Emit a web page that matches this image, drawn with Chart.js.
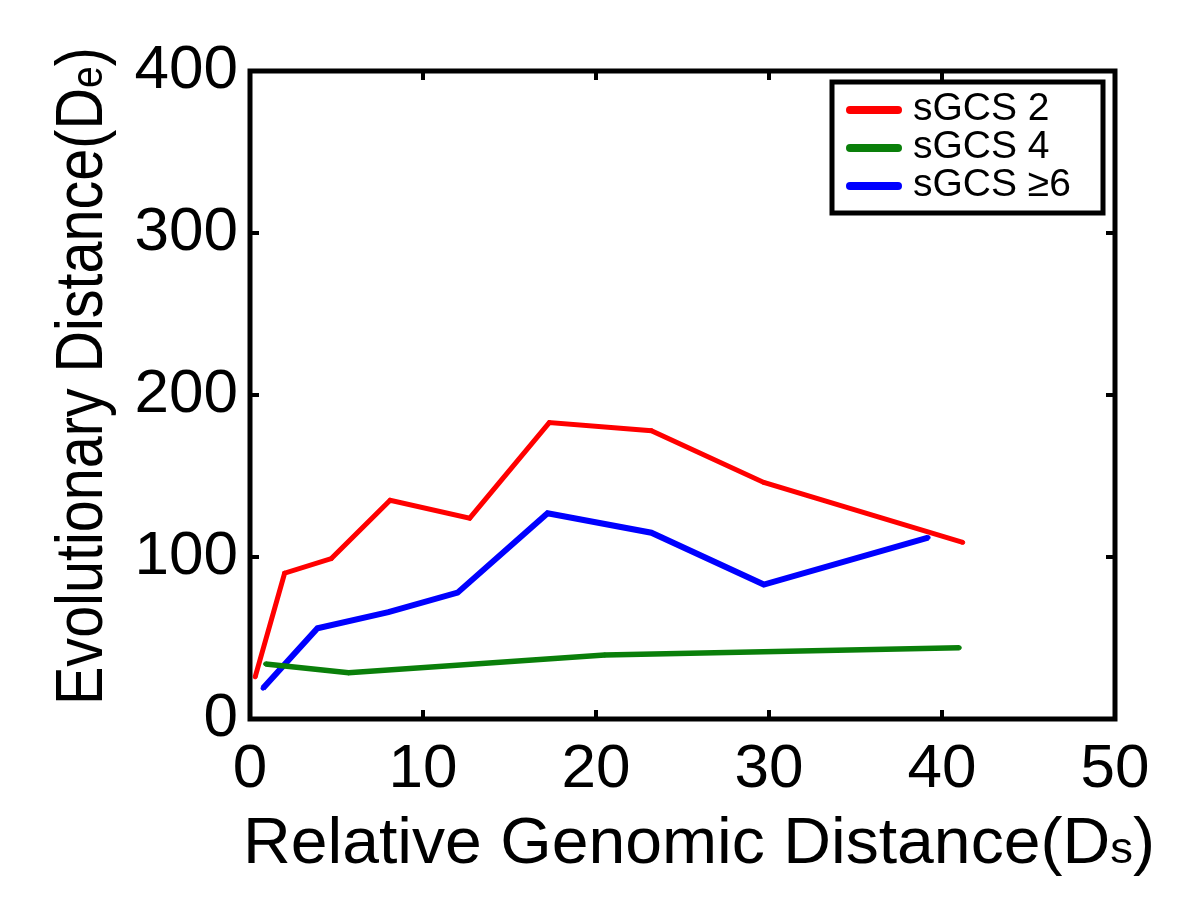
<!DOCTYPE html>
<html>
<head>
<meta charset="utf-8">
<script src="https://cdn.jsdelivr.net/npm/chart.js@4.4.1/dist/chart.umd.min.js"></script>
<style>
  html, body { margin: 0; padding: 0; background: #fff; }
  canvas { display: block; }
</style>
</head>
<body>
<canvas id="myChart" width="1200" height="917"></canvas>
<script>
// values
const seriesNames = ["sGCS 2", "sGCS 4", "sGCS \u22656"];
const seriesColors = ["#ff0000", "#0a7f0a", "#0000ff"];

const sgcs2_x = [0.3, 2.0, 4.7, 8.1, 12.7, 17.3, 23.2, 29.7, 41.2];
const sgcs2_y = [26, 90, 99, 135, 124, 183, 178, 146, 109];

const sgcs4_x = [0.9, 5.7, 20.5, 41.0];
const sgcs4_y = [34, 28.5, 39.5, 44];

const sgcs6_x = [0.75, 3.9, 8.0, 12.0, 17.2, 23.2, 29.7, 39.2];
const sgcs6_y = [19, 56, 66, 78, 127, 115, 83, 112];

const xTicks = [0, 10, 20, 30, 40, 50];
const yTicks = [0, 100, 200, 300, 400];

const xTitle = ["Relative Genomic Distance(D", "s", ")"];
const yTitle = ["Evolutionary Distance(D", "e", ")"];

const FONT = "'Liberation Sans', Arial, Helvetica, sans-serif";

function toPoints(xs, ys) {
    return xs.map((x, i) => ({ x: x, y: ys[i] }));
}

function drawTitle(ctx, parts, size, target) {
    const big = size + "px " + FONT;
    const small = Math.round(size * 0.68) + "px " + FONT;
    ctx.font = big;
    const w1 = ctx.measureText(parts[0]).width;
    const w3 = ctx.measureText(parts[2]).width;
    ctx.font = small;
    const w2 = ctx.measureText(parts[1]).width;
    const total = w1 + w2 + w3;
    ctx.scale(target / total, 1);
    ctx.textBaseline = "alphabetic";
    ctx.textAlign = "left";
    ctx.font = big;
    ctx.fillText(parts[0], 0, 0);
    ctx.font = small;
    ctx.fillText(parts[1], w1, 0);
    ctx.font = big;
    ctx.fillText(parts[2], w1 + w2, 0);
}

const framePlugin = {
    id: "frame",
    afterDraw(chart) {
        const ctx = chart.ctx;
        const a = chart.chartArea;
        const xs = chart.scales.x;
        const ys = chart.scales.y;
        ctx.save();
        ctx.strokeStyle = "#000";
        ctx.lineWidth = 4;
        ctx.lineCap = "butt";
        // inward ticks on all four sides
        xTicks.forEach(v => {
            const px = xs.getPixelForValue(v);
            if (v === xTicks[0] || v === xTicks[xTicks.length - 1]) return;
            ctx.beginPath();
            ctx.moveTo(px, a.bottom); ctx.lineTo(px, a.bottom - 9);
            ctx.moveTo(px, a.top); ctx.lineTo(px, a.top + 9);
            ctx.stroke();
        });
        yTicks.forEach(v => {
            const py = ys.getPixelForValue(v);
            if (v === yTicks[0] || v === yTicks[yTicks.length - 1]) return;
            ctx.beginPath();
            ctx.moveTo(a.left, py); ctx.lineTo(a.left + 9, py);
            ctx.moveTo(a.right, py); ctx.lineTo(a.right - 9, py);
            ctx.stroke();
        });
        ctx.lineWidth = 5;
        ctx.strokeRect(a.left, a.top, a.right - a.left, a.bottom - a.top);

        // legend
        ctx.fillStyle = "#fff";
        ctx.fillRect(832, 82, 271, 131);
        ctx.strokeRect(832, 82, 271, 131);
        const rows = [110, 148, 186];
        chart.data.datasets.forEach((ds, i) => {
            ctx.strokeStyle = ds.borderColor;
            ctx.lineWidth = 8;
            ctx.lineCap = "round";
            ctx.beginPath();
            ctx.moveTo(850, rows[i]); ctx.lineTo(898, rows[i]);
            ctx.stroke();
            ctx.fillStyle = "#000";
            ctx.font = "39px " + FONT;
            ctx.textBaseline = "middle";
            ctx.textAlign = "left";
            ctx.fillText(ds.label, 913, rows[i] - 1);
        });
        ctx.restore();

        // axis titles
        ctx.save();
        ctx.fillStyle = "#000";
        ctx.translate(243, 863);
        drawTitle(ctx, xTitle, 64, 912);
        ctx.restore();

        ctx.save();
        ctx.fillStyle = "#000";
        ctx.translate(102, 705);
        ctx.rotate(-Math.PI / 2);
        drawTitle(ctx, yTitle, 66, 658);
        ctx.restore();
    }
};

const allX = [sgcs2_x, sgcs4_x, sgcs6_x];
const allY = [sgcs2_y, sgcs4_y, sgcs6_y];
const widths = [5, 5.5, 6];

const myChart = new Chart("myChart", {
    type: "scatter",
    data: {
        datasets: seriesNames.map((name, i) => ({
            label: name,
            data: toPoints(allX[i], allY[i]),
            showLine: true,
            borderColor: seriesColors[i],
            backgroundColor: seriesColors[i],
            borderWidth: widths[i],
            pointRadius: 2,
            pointHoverRadius: 2,
            pointBorderWidth: 1,
            tension: 0
        }))
    },
    options: {
        responsive: false,
        animation: false,
        events: [],
        layout: { padding: { left: 0, top: 71, right: 85, bottom: 0 } },
        plugins: {
            legend: { display: false },
            tooltip: { enabled: false },
            title: { display: false }
        },
        scales: {
            x: {
                type: "linear",
                min: 0,
                max: 50,
                afterFit: s => { s.height = 198; },
                afterBuildTicks: s => { s.ticks = xTicks.map(v => ({ value: v })); },
                grid: { display: false, drawTicks: false },
                border: { display: false },
                ticks: { color: "#000", padding: 14, font: { family: FONT, size: 62 } }
            },
            y: {
                type: "linear",
                min: 0,
                max: 400,
                afterFit: s => { s.width = 250; },
                afterBuildTicks: s => { s.ticks = yTicks.map(v => ({ value: v })); },
                grid: { display: false, drawTicks: false },
                border: { display: false },
                ticks: { color: "#000", padding: 12, font: { family: FONT, size: 62 } }
            }
        }
    },
    plugins: [framePlugin]
});
</script>
</body>
</html>
